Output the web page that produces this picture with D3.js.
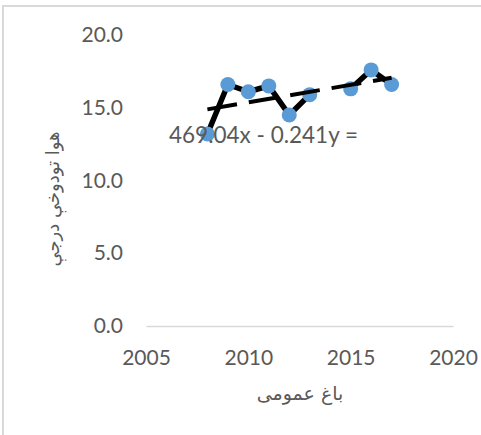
<!DOCTYPE html>
<html>
<head>
<meta charset="utf-8">
<script src="https://cdn.jsdelivr.net/npm/d3@7"></script>
<style>
  body { margin: 0; background: #fff; }
  svg { display: block; }
</style>
</head>
<body>
<div id="chart"></div>
<script>
// data (2014 is missing in the source)
var years = [2008, 2009, 2010, 2011, 2012, 2013, 2014, 2015, 2016, 2017];
var temps = [13.2, 16.6, 16.1, 16.5, 14.5, 15.9, null, 16.3, 17.6, 16.6];
var xTicks = [2005, 2010, 2015, 2020];
var yTicks = [0, 5, 10, 15, 20];
var trendCoef = [0.241, -469.04];   // slope, intercept
var trendLabel = "469.04x - 0.241y =";
var xTitle = "باغ عمومی";
var yTitle = "هوا تودوخې درجې";

var W = 481, H = 435;
var grey = "#595959";
var numFont = "Lato, 'Liberation Sans', sans-serif";

var svg = d3.select("#chart").append("svg")
    .attr("width", W)
    .attr("height", H);

// outer chart border
svg.append("rect")
    .attr("x", 3).attr("y", 6)
    .attr("width", W + 20).attr("height", H + 20)
    .attr("fill", "none")
    .attr("stroke", "#d9d9d9")
    .attr("stroke-width", 2);

var x = d3.scaleLinear().domain([2005, 2020]).range([146, 453]);
var y = d3.scaleLinear().domain([0, 20]).range([326, 35]);

// y axis (labels only)
var gy = svg.append("g")
    .attr("transform", "translate(" + x(2005) + ",0)")
    .call(d3.axisLeft(y).tickValues(yTicks).tickFormat(d3.format(".1f")).tickSize(0).tickPadding(23));
gy.select(".domain").remove();

// x axis with light baseline
var gx = svg.append("g")
    .attr("transform", "translate(0," + y(0) + ")")
    .call(d3.axisBottom(x).tickValues(xTicks).tickFormat(d3.format("d")).tickSize(0).tickPadding(24));
gx.select(".domain").attr("stroke", "#d9d9d9").attr("stroke-width", 1.5);

svg.selectAll(".tick text")
    .attr("fill", grey)
    .style("font-family", numFont)
    .style("font-size", "21px");

var pts = years.map(function(yr, i) { return {year: yr, v: temps[i]}; });

var line = d3.line()
    .defined(function(d) { return d.v != null; })
    .x(function(d) { return x(d.year); })
    .y(function(d) { return y(d.v); });

svg.append("path")
    .datum(pts)
    .attr("d", line)
    .attr("fill", "none")
    .attr("stroke", "#000")
    .attr("stroke-width", 5.5)
    .attr("stroke-linejoin", "round");

svg.selectAll("circle.pt")
    .data(pts.filter(function(d) { return d.v != null; }))
    .enter().append("circle")
    .attr("class", "pt")
    .attr("cx", function(d) { return x(d.year); })
    .attr("cy", function(d) { return y(d.v); })
    .attr("r", 7.5)
    .attr("fill", "#5b9bd5");

// linear trendline
var tr = [years[0], years[years.length - 1]].map(function(yr) {
  return {year: yr, v: trendCoef[0] * yr + trendCoef[1]};
});
svg.append("path")
    .datum(tr)
    .attr("d", d3.line().x(function(d) { return x(d.year); }).y(function(d) { return y(d.v); }))
    .attr("fill", "none")
    .attr("stroke", "#000")
    .attr("stroke-width", 4)
    .attr("stroke-dasharray", "30,12");

svg.append("text")
    .attr("x", 169).attr("y", 143)
    .attr("fill", grey)
    .style("font-family", numFont)
    .style("font-size", "22.5px")
    .text(trendLabel);

// axis titles
svg.append("text")
    .attr("x", 300).attr("y", 400)
    .attr("text-anchor", "middle")
    .attr("fill", grey)
    .style("font-family", "'DejaVu Sans', sans-serif")
    .style("font-size", "19px")
    .text(xTitle);

svg.append("text")
    .attr("transform", "translate(59,199) rotate(-90)")
    .attr("text-anchor", "middle")
    .attr("fill", grey)
    .style("font-family", "'DejaVu Sans', sans-serif")
    .style("font-size", "18px")
    .text(yTitle);
</script>
</body>
</html>
